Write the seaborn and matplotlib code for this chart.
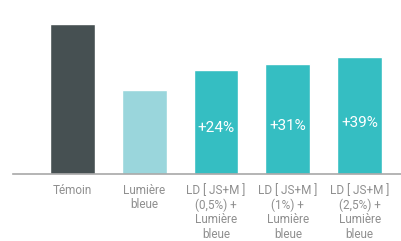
import matplotlib
matplotlib.use("Agg")
import matplotlib.pyplot as plt
import seaborn as sns
import pandas as pd

# values (Témoin = 100)
categories = ["Témoin", "Lumière\nbleue",
              "LD [ JS+M ]\n(0,5%) +\nLumière\nbleue",
              "LD [ JS+M ]\n(1%) +\nLumière\nbleue",
              "LD [ JS+M ]\n(2,5%) +\nLumière\nbleue"]
values = [100, 56, 69.4, 73.4, 77.8]
gains = ["", "", "+24%", "+31%", "+39%"]
colors = ["#465052", "#9ad6dc", "#35bec2", "#35bec2", "#35bec2"]

df = pd.DataFrame({"cat": categories, "val": values})

sns.set_style("white")
plt.rcParams["font.family"] = ["Roboto", "DejaVu Sans"]

fig = plt.figure(figsize=(4.01, 2.41), dpi=100)
ax = fig.add_axes([13 / 401, 67 / 241, 1 - 13 / 401, 174 / 241])

sns.barplot(data=df, x="cat", y="val", hue="cat", palette=colors,
            width=0.625, legend=False, saturation=1, ax=ax)

for i, (v, g) in enumerate(zip(values, gains)):
    if g:
        ax.text(i, v * 0.44, g, ha="center", va="center", color="white",
                fontsize=11)

ax.set_xlim(-0.826, 4.576)
ax.set_ylim(0, 116)
ax.set_xlabel("")
ax.set_ylabel("")
ax.set_yticks([])
for s in ["top", "right", "left"]:
    ax.spines[s].set_visible(False)
ax.spines["bottom"].set_color("#a8a8a8")
ax.spines["bottom"].set_linewidth(1.2)
ax.tick_params(axis="x", length=0, pad=7, labelsize=8.5, labelcolor="#8f8f8f")
for lab in ax.get_xticklabels():
    lab.set_linespacing(1.15)

fig.savefig("out.png", dpi=100)
